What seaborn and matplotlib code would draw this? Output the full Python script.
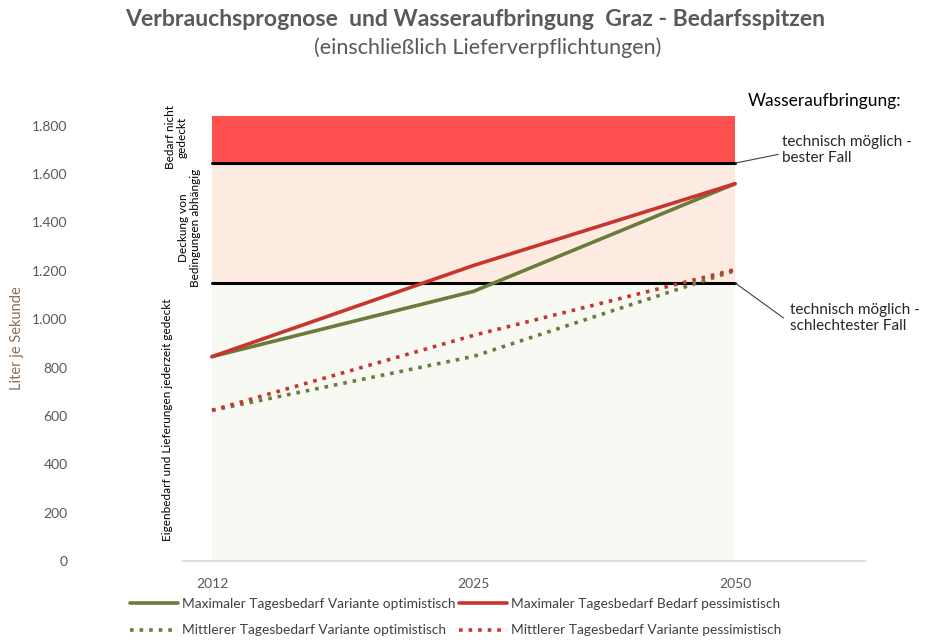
import pandas as pd
import matplotlib.pyplot as plt
import seaborn as sns

# --- Data ---
YEARS = ['2012', '2025', '2050']
MAX_OPT = [845, 1115, 1560]
MAX_PESS = [845, 1222, 1560]
MEAN_OPT = [623, 846, 1201]
MEAN_PESS = [623, 933, 1205]

SUPPLY_BEST = 1645      # technisch möglich - bester Fall
SUPPLY_WORST = 1150     # technisch möglich - schlechtester Fall
Y_TOP = 1840

SERIES = [
    ('Maximaler Tagesbedarf Variante optimistisch', MAX_OPT, '#6B7B3A', '-'),
    ('Maximaler Tagesbedarf Bedarf pessimistisch', MAX_PESS, '#C8352E', '-'),
    ('Mittlerer Tagesbedarf Variante optimistisch', MEAN_OPT, '#6B7B3A', ':'),
    ('Mittlerer Tagesbedarf Variante pessimistisch', MEAN_PESS, '#C8352E', ':'),
]

GRAY = '#595959'


def main():
    sns.set_theme(style="white")
    plt.rcParams['font.family'] = ['Lato', 'DejaVu Sans']

    fig = plt.figure(figsize=(9.25, 6.42), dpi=100)
    ax = fig.add_axes([183 / 925, 81 / 642, (865 - 183) / 925, (561 - 116) / 642])

    x0, x1 = 0, len(YEARS) - 1

    # background bands
    ax.fill_between([x0, x1], 0, SUPPLY_WORST, color='#F8F9F3', lw=0, zorder=0)
    ax.fill_between([x0, x1], SUPPLY_WORST, SUPPLY_BEST, color='#FDEBE1', lw=0, zorder=0)
    ax.fill_between([x0, x1], SUPPLY_BEST, Y_TOP, color='#FF5050', lw=0, zorder=0)
    ax.plot([x0, x1], [SUPPLY_BEST] * 2, color='black', lw=2.2, zorder=2)
    ax.plot([x0, x1], [SUPPLY_WORST] * 2, color='black', lw=2.2, zorder=2)

    # demand lines
    for label, vals, color, ls in SERIES:
        df = pd.DataFrame({'Jahr': range(len(YEARS)), 'Wert': vals})
        sns.lineplot(data=df, x='Jahr', y='Wert', ax=ax, color=color, lw=2.6,
                     linestyle=ls, label=label, zorder=3)

    ax.set_xlim(-0.111, 2.497)
    ax.set_ylim(0, Y_TOP)
    ax.set_xticks(range(len(YEARS)))
    ax.set_xticklabels(YEARS)
    ax.set_yticks(range(0, 1801, 200))
    ax.set_yticklabels([f'{v:,}'.replace(',', '.') for v in range(0, 1801, 200)])
    ax.tick_params(axis='x', colors=GRAY, labelsize=10, length=0, pad=12)
    ax.tick_params(axis='y', colors=GRAY, labelsize=10, length=0, pad=83)
    ax.set_xlabel('')
    ax.set_ylabel('Liter je Sekunde', color='#8C6E5A', fontsize=10.5, labelpad=6)

    for side in ['top', 'right', 'left']:
        ax.spines[side].set_visible(False)
    ax.spines['bottom'].set_color('#D9D9D9')

    # zone labels (vertical)
    ax.text(-0.135, (SUPPLY_BEST + Y_TOP) / 2 + 10, 'Bedarf nicht\ngedeckt', rotation=90,
            ha='center', va='center', fontsize=8.5, color='black', linespacing=1.1)
    ax.text(-0.085, 1377, 'Deckung von\nBedingungen abhängig',
            rotation=90, ha='center', va='center', fontsize=8.5, color='black', linespacing=1.1)
    ax.text(-0.17, 585, 'Eigenbedarf und Lieferungen jederzeit gedeckt',
            rotation=90, ha='center', va='center', fontsize=8.5, color='black')

    # supply annotations on the right
    ax.text(2.05, 1900, 'Wasseraufbringung:', fontsize=12.5, color='black',
            ha='left', va='center', clip_on=False)
    ax.annotate('technisch möglich -\nbester Fall', xy=(x1, SUPPLY_BEST),
                xytext=(2.18, 1700), fontsize=11, ha='left', va='center',
                arrowprops=dict(arrowstyle='-', color='#404040', lw=0.8,
                                shrinkA=0, shrinkB=0, relpos=(-0.03, 0.35)))
    ax.annotate('technisch möglich -\nschlechtester Fall', xy=(x1, SUPPLY_WORST),
                xytext=(2.21, 1005), fontsize=11, ha='left', va='center',
                arrowprops=dict(arrowstyle='-', color='#404040', lw=0.8,
                                shrinkA=0, shrinkB=0, relpos=(-0.05, 0.5)))

    # legend (row-wise order: max opt, max pess / mean opt, mean pess)
    handles, labels = ax.get_legend_handles_labels()
    order = [0, 2, 1, 3]
    ax.legend([handles[i] for i in order], [labels[i] for i in order], ncol=2,
              loc='upper left', bbox_to_anchor=(130 / 925, (642 - 598) / 642),
              bbox_transform=fig.transFigure, frameon=False, fontsize=9.9,
              handlelength=3.5, handletextpad=0.25, columnspacing=0.3,
              labelspacing=1.05, borderpad=0, borderaxespad=0, labelcolor='#404040')

    # titles
    fig.text(475 / 925, 1 - 20 / 642, 'Verbrauchsprognose  und Wasseraufbringung  Graz - Bedarfsspitzen',
             ha='center', va='center', fontsize=16.6, fontweight='bold', color=GRAY)
    fig.text(488 / 925, 1 - 48 / 642, '(einschließlich Lieferverpflichtungen)',
             ha='center', va='center', fontsize=15.5, color=GRAY)

    plt.savefig('out.png', dpi=100)


if __name__ == "__main__":
    main()
